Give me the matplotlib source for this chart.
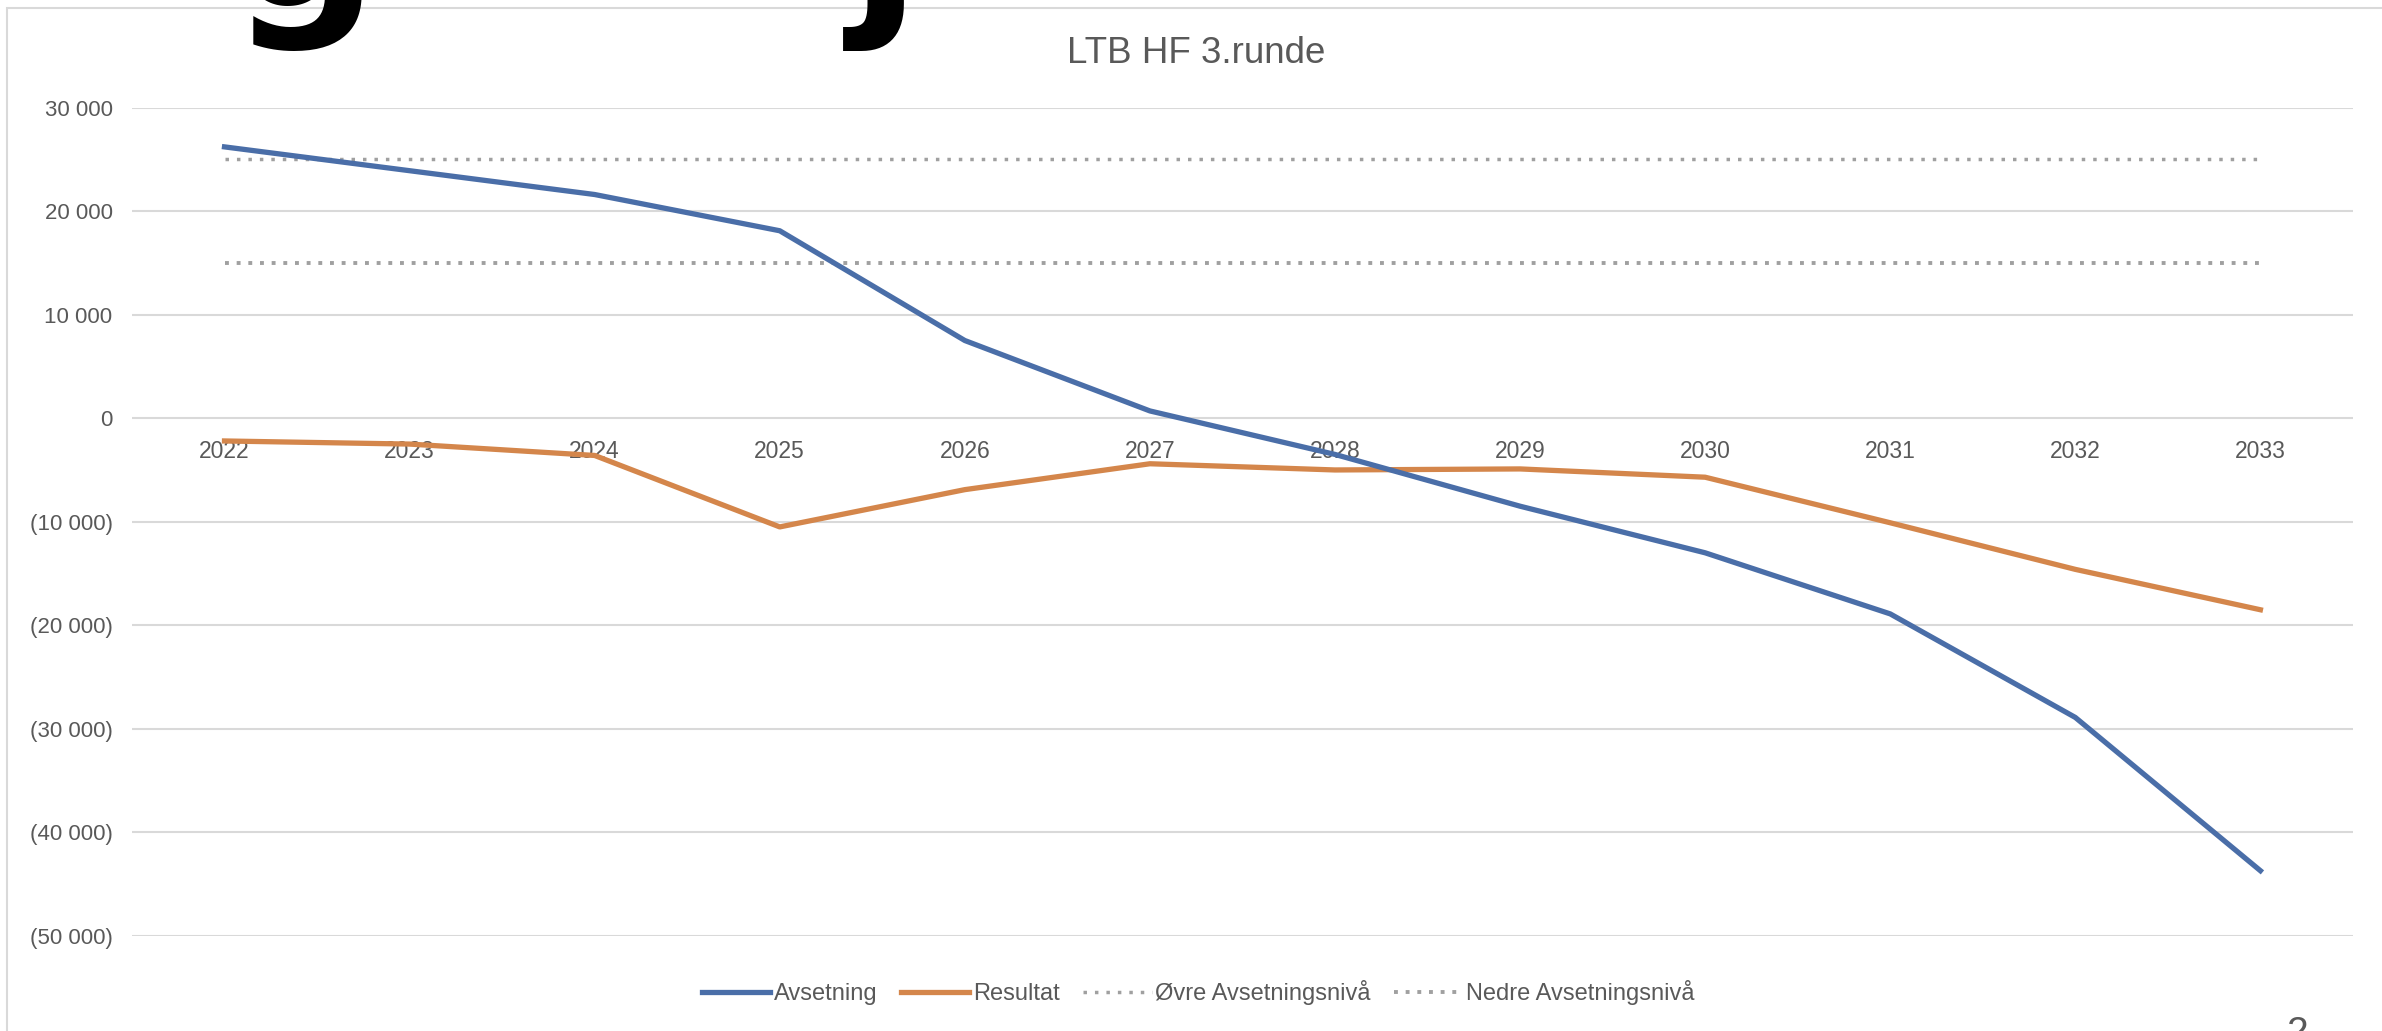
import matplotlib
matplotlib.use('Agg')
import matplotlib.pyplot as plt
from matplotlib.patches import Rectangle
from matplotlib.ticker import FuncFormatter

# data
years = [2022, 2023, 2024, 2025, 2026, 2027, 2028, 2029, 2030, 2031, 2032, 2033]
avsetning = [26200, 23900, 21600, 18100, 7500, 700, -3500, -8500, -13000, -18900, -28900, -43700]
resultat = [-2200, -2500, -3600, -10500, -6900, -4400, -5000, -4900, -5700, -10100, -14600, -18500]
ovre = [25000] * 12
nedre = [15000] * 12
y_ticks = [30000, 20000, 10000, 0, -10000, -20000, -30000, -40000, -50000]

plt.rcParams['font.family'] = ['Liberation Sans', 'DejaVu Sans']
grey_text = '#595959'

fig = plt.figure(figsize=(23.82, 10.31), dpi=100)
ax = fig.add_axes([0.0554, 0.0922, 0.9324, 0.8035])

x = list(range(len(years)))
ax.plot(x, ovre, color='#A0A0A0', lw=2.5, linestyle=(0, (1, 2.3)), label='Øvre Avsetningsnivå', zorder=2)
ax.plot(x, nedre, color='#A0A0A0', lw=2.8, linestyle=(0, (1, 2.0)), label='Nedre Avsetningsnivå', zorder=2)
ax.plot(x, avsetning, color='#4A6EA8', lw=3.8, label='Avsetning', zorder=4)
ax.plot(x, resultat, color='#D4864B', lw=3.8, label='Resultat', zorder=3)

ax.set_xlim(-0.5, len(years) - 0.5)
ax.set_ylim(-50000, 30000)
ax.set_yticks(y_ticks)

def fmt(v, pos):
    s = f'{abs(int(v)):,}'.replace(',', ' ')
    return f'({s})' if v < 0 else s

ax.yaxis.set_major_formatter(FuncFormatter(fmt))
ax.set_xticks(x)
ax.set_xticklabels([str(y) for y in years])

for s in ax.spines.values():
    s.set_visible(False)
ax.spines['bottom'].set_position(('data', 0))
ax.tick_params(axis='x', length=0, pad=16, labelsize=16.5, labelcolor=grey_text)
ax.tick_params(axis='y', length=0, pad=14, labelsize=16, labelcolor=grey_text)
ax.yaxis.grid(True, color='#D9D9D9', lw=1.5)
ax.set_axisbelow(True)

# legend order as in the chart
h, l = ax.get_legend_handles_labels()
order = [2, 3, 0, 1]
fig.legend([h[i] for i in order], [l[i] for i in order], loc='center',
           bbox_to_anchor=(0.503, 0.037), ncol=4, frameon=False,
           fontsize=17, labelcolor=grey_text, handlelength=2.9,
           handletextpad=0.15, columnspacing=1.0)

fig.text(0.502, 0.9485, 'LTB HF 3.runde', ha='center', va='center',
         fontsize=26.5, color=grey_text)

# chart frame
fig.add_artist(Rectangle((7 / 2382, -0.1), 1.2, 1.1 - 8 / 1031, transform=fig.transFigure,
                         fill=False, edgecolor='#D9D9D9', lw=1.5))

# cut-off slide title and page number
fig.text(230 / 2382, 1.0 - 6 / 1031, 'g', ha='left', va='baseline', fontsize=150,
         fontweight='bold', color='black', family='DejaVu Sans')
fig.text(850 / 2382, 1.0 - 6 / 1031, 'j', ha='left', va='baseline', fontsize=150,
         fontweight='bold', color='black', family='DejaVu Sans')
fig.text(2298 / 2382, 15 / 1031, '2', ha='center', va='top', fontsize=28, color=grey_text)

fig.savefig('out.png', dpi=100)
